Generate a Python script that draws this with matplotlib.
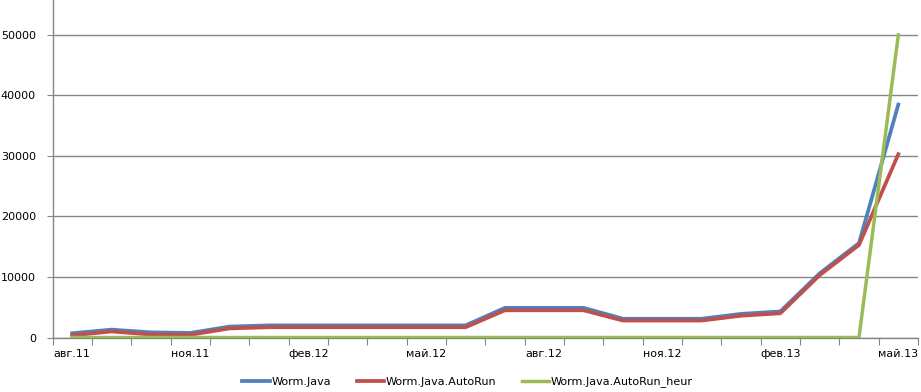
import matplotlib
matplotlib.use("Agg")
import matplotlib.pyplot as plt
import numpy as np

months = ["авг.11", "сен.11", "окт.11", "ноя.11", "дек.11", "янв.12", "фев.12", "мар.12",
          "апр.12", "май.12", "июн.12", "июл.12", "авг.12", "сен.12", "окт.12", "ноя.12",
          "дек.12", "янв.13", "фев.13", "мар.13", "апр.13", "май.13"]
worm_java = [700, 1300, 850, 750, 1800, 2000, 2000, 2000, 2000, 2000, 2000, 4900,
             4900, 4900, 3100, 3100, 3100, 3900, 4300, 10600, 15600, 38500]
worm_autorun = [350, 1000, 500, 450, 1500, 1700, 1700, 1700, 1700, 1700, 1700, 4500,
                4500, 4500, 2800, 2800, 2800, 3600, 4000, 10300, 15300, 30300]
worm_heur = [0, 0, 0, 0, 0, 0, 0, 0, 0, 0, 0, 0, 0, 0, 0, 0, 0, 0, 0, 0, 0, 50000]
series_names = ["Worm.Java", "Worm.Java.AutoRun", "Worm.Java.AutoRun_heur"]
yticks = [0, 10000, 20000, 30000, 40000, 50000]

W, H = 921, 392
fig = plt.figure(figsize=(W / 100, H / 100), dpi=100)
ax = fig.add_axes([52.5 / W, (H - 337.5) / H, (918 - 52.5) / W, 337.5 / H])

x = np.arange(len(months))
gray = "#868686"
ax.plot(x, worm_java, color="#4F81BD", lw=2.7, solid_joinstyle="round", label=series_names[0], zorder=3)
ax.plot(x, worm_autorun, color="#C0504D", lw=2.7, solid_joinstyle="round", label=series_names[1], zorder=4)
ax.plot(x, worm_heur, color="#9BBB59", lw=2.5, solid_joinstyle="round", label=series_names[2], zorder=5)

ax.set_xlim(-0.5, len(months) - 0.5)
ax.set_ylim(0, 55785)
ax.set_yticks(yticks)
ax.set_yticklabels([str(v) for v in yticks], fontsize=8)
ax.yaxis.grid(True, color=gray, lw=1)
ax.set_axisbelow(True)

ax.set_xticks(np.arange(-0.5, len(months), 1))
ax.set_xticklabels([])
ax.set_xticks(x[::3], minor=True)
ax.set_xticklabels(months[::3], minor=True, fontsize=8)
ax.tick_params(axis="x", which="major", length=5, color=gray, direction="out")
ax.tick_params(axis="x", which="minor", length=0, pad=8)
ax.tick_params(axis="y", length=4, color=gray, pad=8)

for s in ["top", "right"]:
    ax.spines[s].set_visible(False)
for s in ["left", "bottom"]:
    ax.spines[s].set_color(gray)
    ax.spines[s].set_linewidth(1)

leg = fig.legend(loc="center", bbox_to_anchor=(0.5 + 7 / W, (H - 382) / H), ncol=3, frameon=False,
                 fontsize=8, handlelength=2.45, handletextpad=0.15, columnspacing=2.3)

fig.savefig("out.png", dpi=100)
